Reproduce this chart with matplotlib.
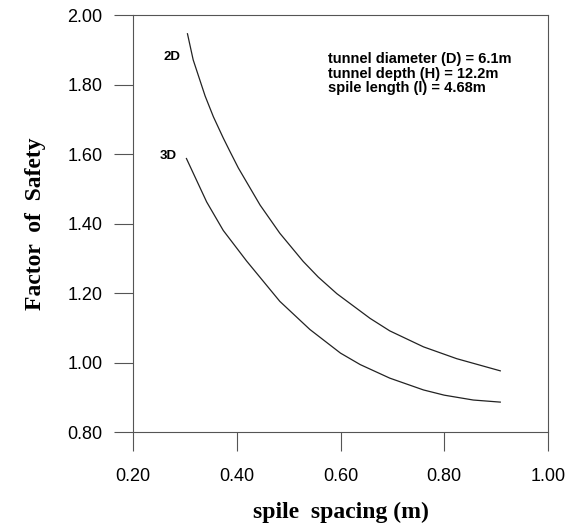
import matplotlib
matplotlib.use("Agg")
import matplotlib.pyplot as plt

# Data
x_2d = [0.305, 0.316, 0.339, 0.355, 0.374, 0.387, 0.403, 0.445, 0.483, 0.503, 0.528,
        0.557, 0.593, 0.657, 0.695, 0.760, 0.824, 0.908]
y_2d = [1.946, 1.871, 1.767, 1.707, 1.646, 1.607, 1.560, 1.453, 1.372, 1.336, 1.291,
        1.246, 1.198, 1.127, 1.091, 1.045, 1.011, 0.976]
x_3d = [0.303, 0.342, 0.374, 0.419, 0.483, 0.541, 0.600, 0.638, 0.695, 0.760, 0.800, 0.856, 0.908]
y_3d = [1.587, 1.462, 1.380, 1.292, 1.176, 1.095, 1.027, 0.994, 0.955, 0.921, 0.906, 0.892, 0.886]
xticks = [0.20, 0.40, 0.60, 0.80, 1.00]
yticks = [0.80, 1.00, 1.20, 1.40, 1.60, 1.80, 2.00]
notes = ["tunnel diameter (D) = 6.1m", "tunnel depth (H) = 12.2m", "spile length (l) = 4.68m"]

fig = plt.figure(figsize=(5.76, 5.27), dpi=100)
ax = fig.add_axes([133/576, 1-432/527, (548-133)/576, (432-15)/527])

ax.plot(x_2d, y_2d, color="#222222", lw=0.9)
ax.plot(x_3d, y_3d, color="#222222", lw=0.9)

ax.set_xlim(0.2, 1.0)
ax.set_ylim(0.8, 2.0)
ax.set_xticks(xticks)
ax.set_yticks(yticks)
ax.set_xticklabels([f"{v:.2f}" for v in xticks], family="Liberation Sans", fontsize=13)
ax.set_yticklabels([f"{v:.2f}" for v in yticks], family="Liberation Sans", fontsize=13)
ax.tick_params(axis="x", direction="out", length=14, width=0.8, color="#555555", pad=12)
ax.tick_params(axis="y", direction="out", length=14, width=0.8, color="#555555", pad=8)
for s in ax.spines.values():
    s.set_color("#555555")
    s.set_linewidth(0.8)

ax.set_xlabel("spile  spacing (m)", family="Liberation Serif", fontweight="bold", fontsize=17, labelpad=12)
ax.set_ylabel("Factor  of  Safety", family="Liberation Serif", fontweight="bold", fontsize=17, labelpad=15)

ax.text(0.275, 1.878, "2D", family="Liberation Sans", fontweight="bold", fontsize=9.5, ha="center", va="center")
ax.text(0.267, 1.595, "3D", family="Liberation Sans", fontweight="bold", fontsize=9.5, ha="center", va="center")
for i, t in enumerate(notes):
    ax.text(0.576, 1.874 - i * 0.0425, t, family="Liberation Sans", fontweight="bold", fontsize=10.5,
            ha="left", va="center")

fig.savefig("out.png", dpi=100)
